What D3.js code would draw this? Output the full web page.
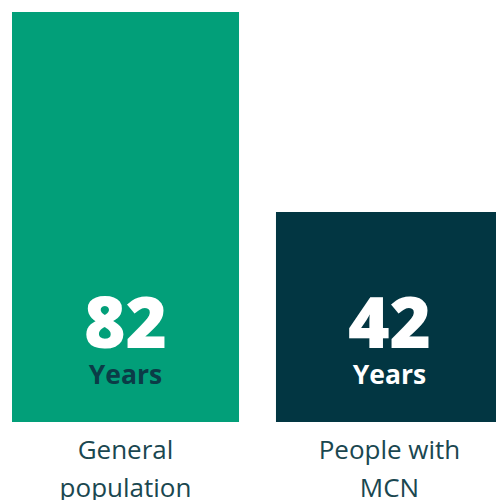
<!DOCTYPE html>
<html>
<head>
<meta charset="utf-8">
<script src="https://cdn.jsdelivr.net/npm/d3@7"></script>
<style>
  body { margin: 0; background: #fff; overflow: hidden; }
  svg { display: block; font-family: "Open Sans", sans-serif; }
</style>
</head>
<body>
<svg id="chart" width="496" height="500"></svg>
<script>
// chart data
var categories = ["General population", "People with MCN"];
var labelLines = [["General", "population"], ["People with", "MCN"]];
var values = [82, 42];
var unitText = "Years";

var barColors = ["#029f79", "#023642"];
var unitColors = ["#0b3c47", "#ffffff"];

var svg = d3.select("#chart");

var x = d3.scaleBand()
    .domain(categories)
    .range([12, 503])
    .paddingInner(0.14)
    .paddingOuter(0);

var y = d3.scaleLinear()
    .domain([0, 82])
    .range([422, 12]);

var bars = svg.selectAll("g.bar")
    .data(values)
    .enter().append("g")
    .attr("class", "bar");

bars.append("rect")
    .attr("x", function (d, i) { return x(categories[i]); })
    .attr("y", function (d) { return y(d); })
    .attr("width", x.bandwidth())
    .attr("height", function (d) { return y(0) - y(d); })
    .attr("fill", function (d, i) { return barColors[i]; });

// big number
bars.append("text")
    .attr("x", function (d, i) { return x(categories[i]) + x.bandwidth() / 2; })
    .attr("y", y(0) - 74)
    .attr("text-anchor", "middle")
    .attr("font-size", 71)
    .attr("font-weight", 800)
    .attr("fill", "#ffffff")
    .text(function (d) { return d; });

// "Years"
bars.append("text")
    .attr("x", function (d, i) { return x(categories[i]) + x.bandwidth() / 2; })
    .attr("y", y(0) - 38)
    .attr("text-anchor", "middle")
    .attr("font-size", 26.5)
    .attr("font-weight", 700)
    .attr("fill", function (d, i) { return unitColors[i]; })
    .text(unitText);

// category labels under the bars
var labels = svg.selectAll("text.cat")
    .data(categories)
    .enter().append("text")
    .attr("class", "cat")
    .attr("x", function (d) { return x(d) + x.bandwidth() / 2; })
    .attr("y", 459)
    .attr("text-anchor", "middle")
    .attr("font-size", 26)
    .attr("fill", "#1a4750");

labels.selectAll("tspan")
    .data(function (d, i) { return labelLines[i]; })
    .enter().append("tspan")
    .attr("x", function () { return d3.select(this.parentNode).attr("x"); })
    .attr("dy", function (d, j) { return j === 0 ? 0 : 38; })
    .text(function (d) { return d; });
</script>
</body>
</html>
